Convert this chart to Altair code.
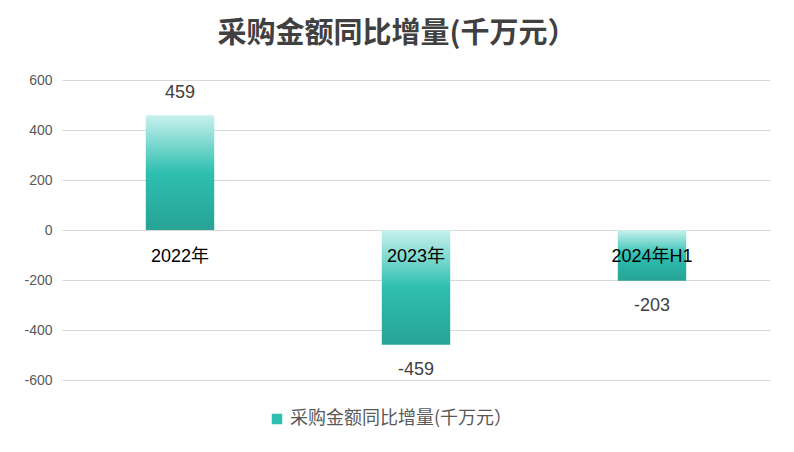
import altair as alt
import pandas as pd

categories = ["2022年", "2023年", "2024年H1"]
values = [459, -459, -203]
series_name = "采购金额同比增量(千万元）"
y_ticks = [-600, -400, -200, 0, 200, 400, 600]

df = pd.DataFrame({"cat": categories, "v": values, "s": [series_name] * 3})

grad = {
    "gradient": "linear",
    "x1": 0, "y1": 0, "x2": 0, "y2": 1,
    "stops": [
        {"offset": 0, "color": "#c9f1ed"},
        {"offset": 0.5, "color": "#2ebfb1"},
        {"offset": 1, "color": "#26a394"},
    ],
}

x = alt.X("cat:N", sort=categories, axis=None,
          scale=alt.Scale(paddingInner=0.71, paddingOuter=0.355))
y = alt.Y("v:Q", scale=alt.Scale(domain=[-600, 600]),
          axis=alt.Axis(values=y_ticks, title=None, domain=False, ticks=False,
                        labelFontSize=14, labelColor="#595959", labelPadding=10,
                        gridColor="#d9d9d9", gridWidth=1,
                        labelExpr="replace(datum.label, '−', '-')",
                        labelFont="Liberation Sans"))

base = alt.Chart(df).transform_calculate(lab="'' + datum.v")

bars = base.mark_bar(color=grad).encode(x=x, y=y)

legend_layer = base.mark_square(opacity=0, size=1).encode(
    x=x, y=y,
    color=alt.Color("s:N", scale=alt.Scale(range=["#2ebfb1"]),
                    legend=alt.Legend(title=None, orient="none", legendX=206, legendY=330,
                                      symbolType="square", symbolSize=110,
                                      symbolOpacity=1, labelFontSize=18,
                                      labelColor="#595959", labelFont="Noto Sans CJK SC",
                                      labelLimit=400)),
)

pos_labels = base.transform_filter("datum.v >= 0").mark_text(
    dy=-22, fontSize=18, color="#404040", font="Liberation Sans"
).encode(x=x, y=y, text=alt.Text("lab:N"))

neg_labels = base.transform_filter("datum.v < 0").mark_text(
    dy=25, fontSize=18, color="#404040", font="Liberation Sans"
).encode(x=x, y=y, text=alt.Text("lab:N"))

cat_labels = base.mark_text(
    dy=27, fontSize=18, color="#000000", font="Liberation Sans, Noto Sans CJK SC"
).encode(x=x, y=alt.datum(0), text="cat:N")

chart = alt.layer(bars, legend_layer, pos_labels, neg_labels, cat_labels).properties(
    width=708, height=300,
    autosize=alt.AutoSizeParams(type="none"),
    padding={"left": 54, "top": 72, "right": 16, "bottom": 64},
    title=alt.TitleParams(series_name, fontSize=29, font="Noto Sans CJK SC",
                          fontWeight="bold", color="#404040", offset=24, dx=-19,
                          anchor="middle"),
).configure(background="white").configure_view(strokeWidth=0, stroke="transparent")

chart.save("out.html", embed_options={"renderer": "svg", "actions": False})
